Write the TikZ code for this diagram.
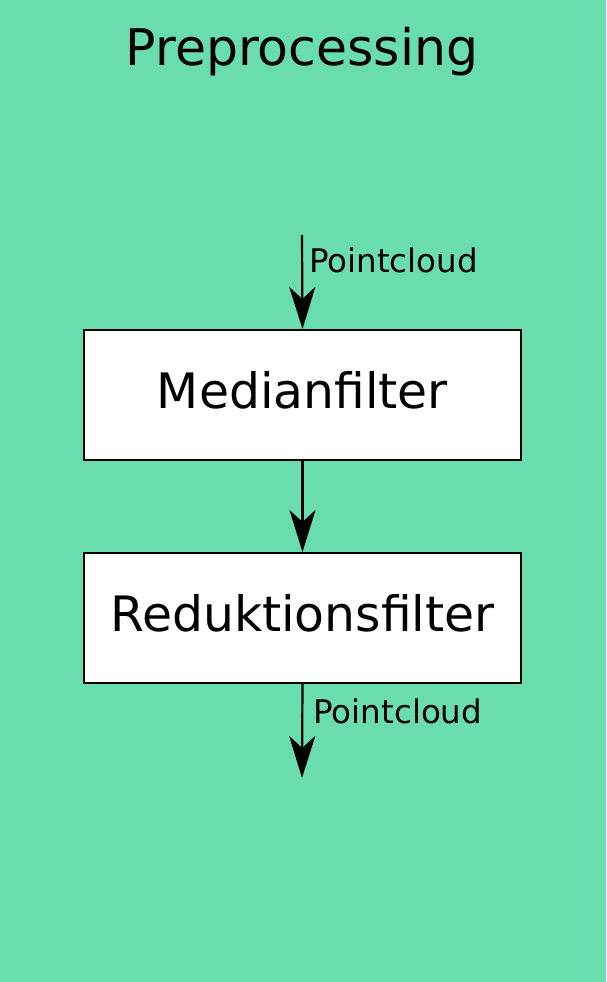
\documentclass[tikz,border=0pt]{standalone}
\usepackage{fontspec}
\setmainfont{DejaVu Sans}
\usetikzlibrary{arrows.meta}
\definecolor{bggreen}{RGB}{106,221,174}

\begin{document}
\begin{tikzpicture}
        [x=1pt, y=-1pt,
         filter/.style={rectangle, draw, fill=white, line width=2pt,
                        minimum width=437pt, minimum height=130pt, inner sep=0pt,
                        text height=36pt, text depth=10pt,
                        font=\fontsize{48.8}{58}\selectfont},
         flow/.style={line width=2.2pt, -{Stealth[length=42pt, width=26pt, inset=12pt]}},
         lbl/.style={anchor=west, font=\fontsize{32.5}{39}\selectfont, inner sep=0pt}]
        \fill [bggreen] (0, 0) rectangle (606, 982);
        \node (title)  at (302, 66)  [anchor=base, font=\fontsize{50.5}{60}\selectfont] {Preprocessing};
        \node (median) at (302.5, 395) [filter] {Medianfilter};
        \node (reduce) at (302.5, 618) [filter] {Reduktionsfilter};
        \coordinate (in)  at (302, 235);
        \coordinate (out) at (302, 778);
        \draw [flow] (in) -- (median.north)
            node [lbl, pos=0.27, xshift=6pt] {Pointcloud};
        \draw [flow] (median.south) -- (reduce.north);
        \draw [flow] (reduce.south) -- (out)
            node [lbl, pos=0.29, xshift=10pt] {Pointcloud};
    \end{tikzpicture}
\end{document}
